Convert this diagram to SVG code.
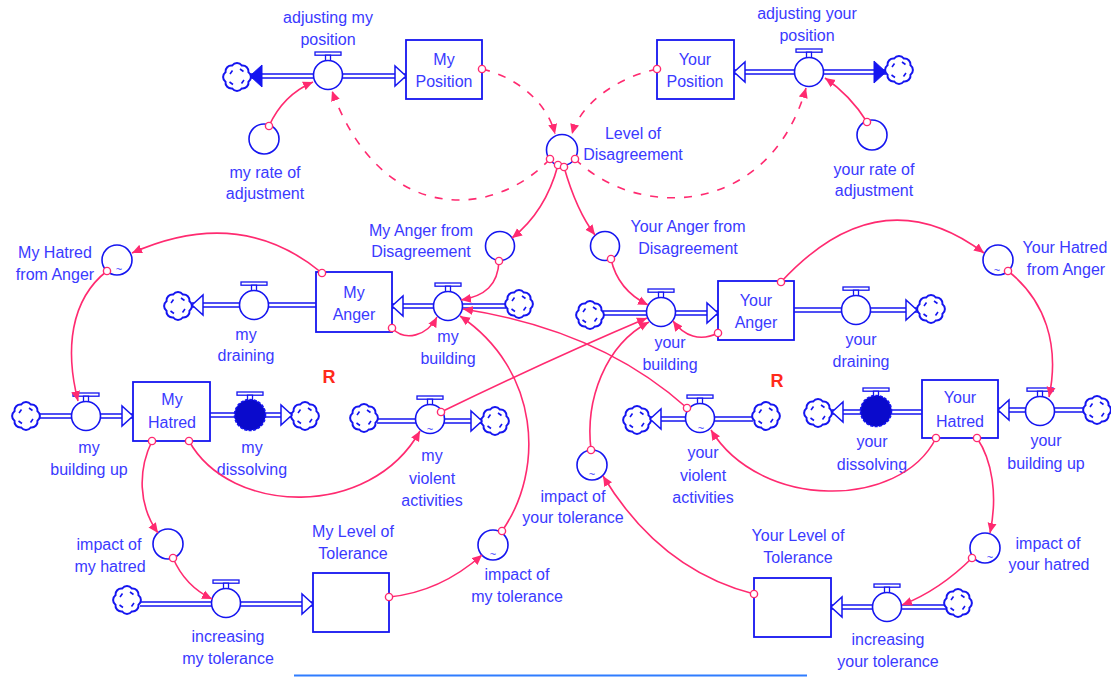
<svg xmlns="http://www.w3.org/2000/svg" width="1111" height="677" viewBox="0 0 1111 677">
<defs>
<style>
.t{font-family:'Liberation Sans',Arial,sans-serif;font-size:16px;fill:#3a3aff;text-anchor:middle}
.tl{font-family:'Liberation Sans',Arial,sans-serif;font-size:11px;fill:#3a3aff;text-anchor:middle}
.r{font-family:'Liberation Sans',Arial,sans-serif;font-size:18px;font-weight:bold;fill:#ff2a1a;text-anchor:middle}
.stock{fill:#fff;stroke:#1515f0;stroke-width:1.8}
.aux{fill:#fff;stroke:#1515f0;stroke-width:1.6}
.pipe{fill:none;stroke:#1515f0;stroke-width:5.5}
.pin{fill:none;stroke:#fff;stroke-width:2.4}
.ha{fill:#fff;stroke:#1515f0;stroke-width:1.5}
.fa{fill:#1515f0;stroke:#1515f0;stroke-width:1}
.link{fill:none;stroke:#ff2a70;stroke-width:1.6}
.dash{stroke-dasharray:8 9}
</style>
<marker id="ah" markerWidth="12" markerHeight="10" refX="10" refY="5" orient="auto" markerUnits="userSpaceOnUse"><path d="M0,0.5 L10,5 L0,9.5 Z" fill="#ff2a70"/></marker>
<marker id="oc" markerWidth="10" markerHeight="10" refX="5" refY="5" markerUnits="userSpaceOnUse"><circle cx="5" cy="5" r="3.6" fill="#fff" stroke="#ff2a70" stroke-width="1.4"/></marker>
<g id="cloud">
<path d="M11.5,4.8 A6,6 0 0 1 4.8,11.5 A6,6 0 0 1 -4.8,11.5 A6,6 0 0 1 -11.5,4.8 A6,6 0 0 1 -11.5,-4.8 A6,6 0 0 1 -4.8,-11.5 A6,6 0 0 1 4.8,-11.5 A6,6 0 0 1 11.5,-4.8 A6,6 0 0 1 11.5,4.8 Z" fill="#fff" stroke="#1515f0" stroke-width="2"/>
<path d="M-7,-3 l2.5,-3.5 M3,-8 l3.5,2.5 M7,3 l-2.5,3.5 M-4,7.5 l-3.5,-2.5" fill="none" stroke="#1515f0" stroke-width="1.6"/>
</g>
<g id="valve">
<rect x="-13" y="-23" width="26" height="3.2" fill="#fff" stroke="#1515f0" stroke-width="1.3"/>
<rect x="-2.5" y="-19.8" width="5" height="5.5" fill="#fff" stroke="#1515f0" stroke-width="1.3"/>
<circle r="14.5" fill="#fff" stroke="#1515f0" stroke-width="1.6"/>
</g>
<g id="valveS">
<rect x="-13" y="-23" width="26" height="3.2" fill="#fff" stroke="#1515f0" stroke-width="1.3"/>
<rect x="-2.5" y="-19.8" width="5" height="5.5" fill="#fff" stroke="#1515f0" stroke-width="1.3"/>
<circle r="15.5" fill="#0a0acc" stroke="#1515f0" stroke-width="1.6" stroke-dasharray="3 1.5"/>
</g>
</defs>
<rect width="1111" height="677" fill="#fff"/>

<g id="pipes">
<path class="pipe" d="M250,76 H406 M734,72 H886 M192,305 H316 M392,306 H506 M603,313 H718 M794,310 H918 M39,416 H133 M210,415 H293 M377,421 H483 M650,419 H753 M832,412 H922 M998,410 H1086 M140,604 H313 M831,607 H946"/>
<path class="pin" d="M250,76 H406 M734,72 H886 M192,305 H316 M392,306 H506 M603,313 H718 M794,310 H918 M39,416 H133 M210,415 H293 M377,421 H483 M650,419 H753 M832,412 H922 M998,410 H1086 M140,604 H313 M831,607 H946"/>
</g>

<g id="clouds">
<use href="#cloud" x="237" y="77"/>
<use href="#cloud" x="899" y="70"/>
<use href="#cloud" x="178" y="306"/>
<use href="#cloud" x="519" y="304"/>
<use href="#cloud" x="590" y="315"/>
<use href="#cloud" x="931" y="309"/>
<use href="#cloud" x="26" y="416"/>
<use href="#cloud" x="305" y="416"/>
<use href="#cloud" x="364" y="418"/>
<use href="#cloud" x="495" y="421"/>
<use href="#cloud" x="637" y="420"/>
<use href="#cloud" x="766" y="416"/>
<use href="#cloud" x="818" y="413"/>
<use href="#cloud" x="1097" y="410"/>
<use href="#cloud" x="127" y="600"/>
<use href="#cloud" x="958" y="603"/>
</g>

<g id="flow-arrows">
<polygon class="fa" points="250,76 262,65 262,87"/>
<polygon class="fa" points="886,72 874,61 874,83"/>
<polygon class="ha" points="406,76 395,66 395,86"/>
<polygon class="ha" points="734,72 745,62 745,82"/>
<polygon class="ha" points="192,305 203,295 203,315"/>
<polygon class="ha" points="392,306 403,296 403,316"/>
<polygon class="ha" points="718,313 707,303 707,323"/>
<polygon class="ha" points="917,310 906,300 906,320"/>
<polygon class="ha" points="133,416 122,406 122,426"/>
<polygon class="ha" points="292,415 281,405 281,425"/>
<polygon class="ha" points="482,421 471,411 471,431"/>
<polygon class="ha" points="650,419 661,409 661,429"/>
<polygon class="ha" points="832,412 843,402 843,422"/>
<polygon class="ha" points="998,410 1009,400 1009,420"/>
<polygon class="ha" points="313,604 302,594 302,614"/>
<polygon class="ha" points="831,607 842,597 842,617"/>
</g>

<g id="my-position"><rect class="stock" x="406" y="40" width="76" height="59"/><text class="t" x="444" y="65">My</text><text class="t" x="444" y="87">Position</text></g>
<g id="your-position"><rect class="stock" x="657" y="40" width="77" height="59"/><text class="t" x="695" y="65">Your</text><text class="t" x="695" y="87">Position</text></g>
<g id="my-anger"><rect class="stock" x="316" y="272" width="76" height="60"/><text class="t" x="354" y="298">My</text><text class="t" x="354" y="320">Anger</text></g>
<g id="your-anger"><rect class="stock" x="718" y="281" width="76" height="59"/><text class="t" x="756" y="306">Your</text><text class="t" x="756" y="328">Anger</text></g>
<g id="my-hatred"><rect class="stock" x="133" y="382" width="77" height="59"/><text class="t" x="172" y="405">My</text><text class="t" x="172" y="428">Hatred</text></g>
<g id="your-hatred"><rect class="stock" x="922" y="380" width="76" height="58"/><text class="t" x="960" y="403">Your</text><text class="t" x="960" y="427">Hatred</text></g>
<g id="my-level-of-tolerance"><rect class="stock" x="313" y="573" width="76" height="59"/><text class="t" x="353" y="537">My Level of</text><text class="t" x="353" y="559">Tolerance</text></g>
<g id="your-level-of-tolerance"><rect class="stock" x="754" y="578" width="77" height="59"/><text class="t" x="798" y="541">Your Level of</text><text class="t" x="798" y="563">Tolerance</text></g>

<g id="adjusting-my-position"><use href="#valve" x="328" y="75"/><text class="t" x="328" y="23">adjusting my</text><text class="t" x="328" y="45">position</text></g>
<g id="adjusting-your-position"><use href="#valve" x="809" y="72"/><text class="t" x="807" y="19">adjusting your</text><text class="t" x="807" y="41">position</text></g>
<g id="my-draining"><use href="#valve" x="254" y="305"/><text class="t" x="246" y="340">my</text><text class="t" x="246" y="361">draining</text></g>
<g id="my-building"><use href="#valve" x="448" y="306"/><text class="t" x="448" y="342">my</text><text class="t" x="448" y="364">building</text></g>
<g id="your-building"><use href="#valve" x="661" y="312"/><text class="t" x="670" y="348">your</text><text class="t" x="670" y="370">building</text></g>
<g id="your-draining"><use href="#valve" x="856" y="310"/><text class="t" x="861" y="345">your</text><text class="t" x="861" y="367">draining</text></g>
<g id="my-building-up"><use href="#valve" x="86" y="416"/><text class="t" x="89" y="453">my</text><text class="t" x="89" y="475">building up</text></g>
<g id="my-dissolving"><use href="#valveS" x="250" y="415"/><text class="t" x="252" y="453">my</text><text class="t" x="252" y="475">dissolving</text></g>
<g id="my-violent-activities"><use href="#valve" x="430" y="419"/><text class="tl" x="430" y="433">~</text><text class="t" x="432" y="461">my</text><text class="t" x="432" y="484">violent</text><text class="t" x="432" y="506">activities</text></g>
<g id="your-violent-activities"><use href="#valve" x="700" y="418"/><text class="tl" x="701" y="432">~</text><text class="t" x="703" y="458">your</text><text class="t" x="703" y="481">violent</text><text class="t" x="703" y="503">activities</text></g>
<g id="your-dissolving"><use href="#valveS" x="876" y="411"/><text class="t" x="872" y="447">your</text><text class="t" x="872" y="470">dissolving</text></g>
<g id="your-building-up"><use href="#valve" x="1040" y="411"/><text class="t" x="1046" y="446">your</text><text class="t" x="1046" y="469">building up</text></g>
<g id="increasing-my-tolerance"><use href="#valve" x="226" y="603"/><text class="t" x="228" y="642">increasing</text><text class="t" x="228" y="664">my tolerance</text></g>
<g id="increasing-your-tolerance"><use href="#valve" x="887" y="607"/><text class="t" x="888" y="645">increasing</text><text class="t" x="888" y="667">your tolerance</text></g>

<g id="my-rate-of-adjustment"><circle class="aux" cx="264" cy="139" r="15"/><text class="t" x="265" y="178">my rate of</text><text class="t" x="265" y="199">adjustment</text></g>
<g id="your-rate-of-adjustment"><circle class="aux" cx="872" cy="135" r="15"/><text class="t" x="874" y="175">your rate of</text><text class="t" x="874" y="196">adjustment</text></g>
<g id="level-of-disagreement"><circle class="aux" cx="562" cy="150" r="15.5"/><text class="t" x="633" y="139">Level of</text><text class="t" x="633" y="160">Disagreement</text></g>
<g id="my-anger-from-disagreement"><circle class="aux" cx="500" cy="246" r="14.5"/><text class="t" x="421" y="236">My Anger from</text><text class="t" x="421" y="257">Disagreement</text></g>
<g id="your-anger-from-disagreement"><circle class="aux" cx="605" cy="246" r="14.5"/><text class="t" x="688" y="232">Your Anger from</text><text class="t" x="688" y="254">Disagreement</text></g>
<g id="my-hatred-from-anger"><circle class="aux" cx="117" cy="260" r="15"/><text class="tl" x="119" y="273">~</text><text class="t" x="55" y="258">My Hatred</text><text class="t" x="55" y="280">from Anger</text></g>
<g id="your-hatred-from-anger"><circle class="aux" cx="998" cy="260" r="15"/><text class="tl" x="997" y="274">~</text><text class="t" x="1065" y="253">Your Hatred</text><text class="t" x="1066" y="275">from Anger</text></g>
<g id="impact-of-my-hatred"><circle class="aux" cx="168" cy="544" r="15"/><text class="t" x="109" y="550">impact of</text><text class="t" x="110" y="572">my hatred</text></g>
<g id="impact-of-my-tolerance"><circle class="aux" cx="493" cy="545" r="15"/><text class="tl" x="493" y="558">~</text><text class="t" x="517" y="580">impact of</text><text class="t" x="517" y="602">my tolerance</text></g>
<g id="impact-of-your-tolerance"><circle class="aux" cx="592" cy="465" r="15"/><text class="tl" x="592" y="478">~</text><text class="t" x="573" y="502">impact of</text><text class="t" x="573" y="523">your tolerance</text></g>
<g id="impact-of-your-hatred"><circle class="aux" cx="985" cy="548" r="15"/><text class="tl" x="990" y="561">~</text><text class="t" x="1048" y="549">impact of</text><text class="t" x="1049" y="570">your hatred</text></g>

<g id="loops"><text class="r" x="329" y="383">R</text><text class="r" x="777" y="387">R</text></g>

<g id="connectors" marker-start="url(#oc)" marker-end="url(#ah)">
<path class="link" d="M269,126 Q283,95 313,82"/>
<path class="link" d="M867,122 Q850,95 825,78"/>
<path class="link dash" d="M482,69 C520,78 548,105 555,134"/>
<path class="link dash" d="M657,69 C615,78 580,105 572,134"/>
<path class="link dash" d="M550,159 C490,222 380,222 332,91"/>
<path class="link dash" d="M575,159 C640,222 770,215 806,88"/>
<path class="link" d="M558,165 C550,195 535,220 512,238"/>
<path class="link" d="M564,167 C572,195 582,218 595,235"/>
<path class="link" d="M499,261 C498,285 485,296 461,300"/>
<path class="link" d="M611,259 C616,282 630,296 648,305"/>
<path class="link" d="M392,328 C405,342 427,336 437,317"/>
<path class="link" d="M718,333 C700,342 684,336 673,321"/>
<path class="link" d="M322,273 Q240,205 132,253"/>
<path class="link" d="M107,271 C70,300 65,350 78,401"/>
<path class="link" d="M781,282 Q880,175 984,253"/>
<path class="link" d="M1008,271 C1045,300 1060,345 1049,397"/>
<path class="link" d="M152,441 C138,470 138,505 158,533"/>
<path class="link" d="M173,558 Q185,586 212,599"/>
<path class="link" d="M189,441 C230,515 370,520 420,431"/>
<path class="link" d="M441,412 Q548,360 647,318"/>
<path class="link" d="M687,408 Q600,330 463,309"/>
<path class="link" d="M389,597 Q440,592 482,555"/>
<path class="link" d="M502,531 C545,470 540,370 460,316"/>
<path class="link" d="M754,594 Q660,570 603,476"/>
<path class="link" d="M591,450 C585,400 605,345 649,322"/>
<path class="link" d="M936,438 C900,510 760,510 711,430"/>
<path class="link" d="M977,438 C992,460 998,495 990,533"/>
<path class="link" d="M972,558 Q940,590 902,605"/>
</g>

<line x1="294" y1="675.5" x2="807" y2="675.5" stroke="#2f7dff" stroke-width="2"/>
</svg>
